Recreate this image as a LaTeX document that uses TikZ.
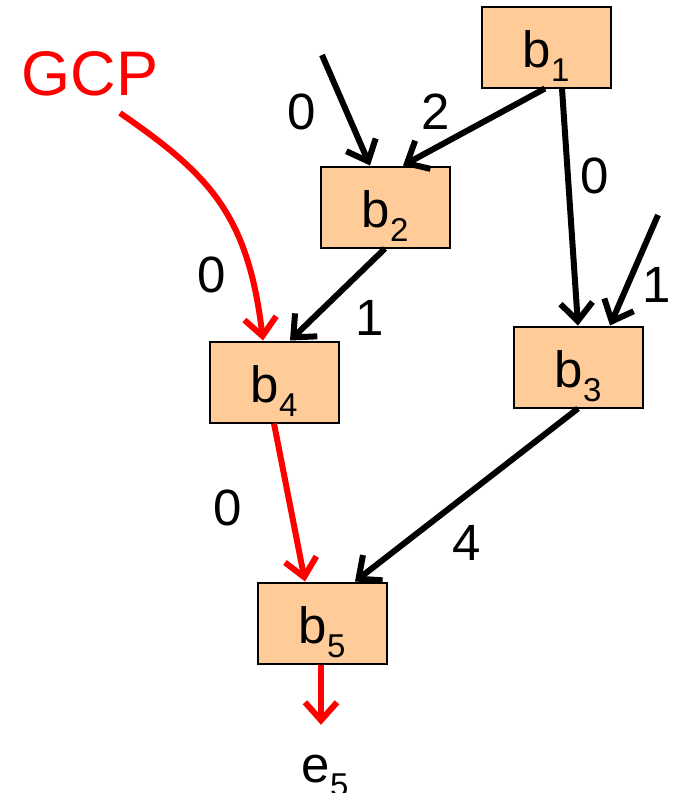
\documentclass[tikz,border=0pt]{standalone}
\usepackage{fontspec}
\setmainfont{Liberation Sans}
\usetikzlibrary{arrows.meta}
\definecolor{boxfill}{RGB}{255,204,153}
% block label: letter with a lowered, smaller index
\newcommand{\blabel}[2]{#1\raisebox{-14pt}{\fontsize{33}{33}\selectfont #2}}
\begin{document}
\begin{tikzpicture}[x=1pt,y=-1pt,
  block/.style={draw=black, line width=2pt, fill=boxfill,
    minimum width=129pt, minimum height=81pt, inner sep=0pt,
    text height=40pt, text depth=0pt, font=\fontsize{51}{51}\selectfont},
  wt/.style={font=\fontsize{51}{51}\selectfont, inner sep=0pt},
  edge/.style={line width=6pt, -{Straight Barb[length=18pt,width=32pt]}},
  hot/.style={edge, red}]
\useasboundingbox (0,0) rectangle (675,793);

% blocks
\node[block] (b1) at (546,47)  {\blabel{b}{1}};
\node[block] (b2) at (385,207) {\blabel{b}{2}};
\node[block] (b3) at (578,367) {\blabel{b}{3}};
\node[block] (b4) at (274,382) {\blabel{b}{4}};
\node[block] (b5) at (322,623) {\blabel{b}{5}};

% exit and entry labels
\node[inner sep=0pt, text height=30pt, anchor=base,
      font=\fontsize{51}{51}\selectfont] (e5) at (325,782) {\blabel{e}{5}};
\node[inner sep=0pt, anchor=base, red, font=\fontsize{63}{63}\selectfont]
  (gcp) at (90,95) {GCP};

% free incoming edges
\coordinate (in2) at (322,55);
\coordinate (in3) at (658,215);
\coordinate (gcpstart) at (120,113);

% edges
\draw[edge] (in2) -- ([xshift=-15pt]b2.north);
\draw[edge] ([xshift=-1pt]b1.south) -- ([xshift=18pt]b2.north);
\draw[edge] ([xshift=16pt]b1.south) -- (b3.north);
\draw[edge] (in3) -- ([xshift=32pt]b3.north);
\draw[edge] (b2.south) -- ([xshift=16pt]b4.north);
\draw[edge] (b3.south) -- ([xshift=33pt]b5.north);
\draw[hot] (gcpstart) .. controls (210,175) and (248,215) .. ([xshift=-11pt]b4.north);
\draw[hot] (b4.south) -- ([xshift=-17pt]b5.north);
\draw[hot, shorten >=27pt] ([xshift=-1pt]b5.south) -- ([xshift=-1pt]b5.south |- e5.north);

% edge weights
\node[wt] (w1) at (302,112) {0};
\node[wt] (w2) at (436,112) {2};
\node[wt] (w3) at (595,176) {0};
\node[wt] (w4) at (657,285) {1};
\node[wt] (w5) at (212,275) {0};
\node[wt] (w6) at (370,318) {1};
\node[wt] (w7) at (467,543) {4};
\node[wt] (w8) at (228,508) {0};
\end{tikzpicture}
\end{document}
